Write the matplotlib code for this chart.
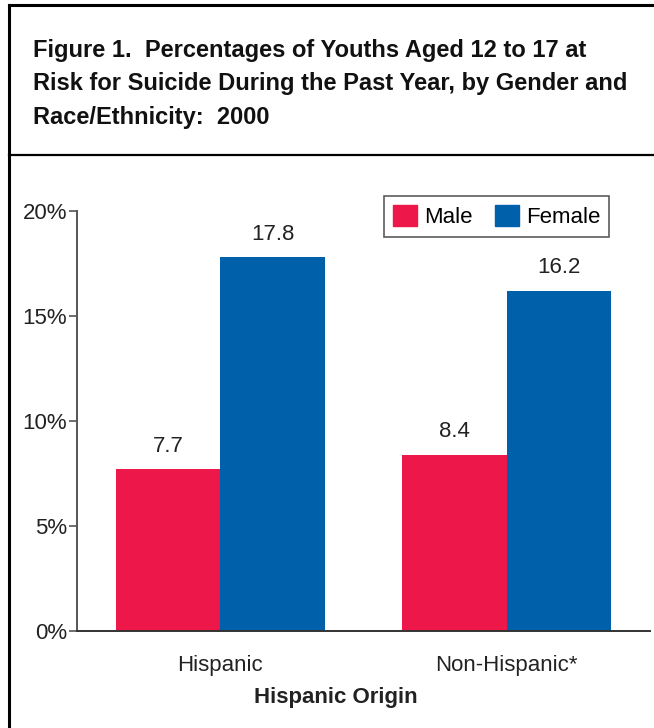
import numpy as np
import matplotlib.pyplot as plt
from matplotlib.lines import Line2D
from matplotlib.patches import Patch

plt.rcParams['font.family'] = ['Liberation Sans', 'DejaVu Sans']

groups = ['Hispanic', 'Non-Hispanic*']
male = [7.7, 8.4]
female = [17.8, 16.2]
yticks = [0, 5, 10, 15, 20]
ytick_labels = ['0%', '5%', '10%', '15%', '20%']

red = '#ED1849'
blue = '#0060A9'
fs = 16

fig = plt.figure(figsize=(6.54, 7.28), dpi=100)
W, H = 654, 728

# frame: left and top border, rule under the title
fig.add_artist(Line2D([9 / W, 9 / W], [0, 1 - 5 / H], color='black', lw=2.2))
fig.add_artist(Line2D([9 / W, 1], [1 - 5 / H, 1 - 5 / H], color='black', lw=2.2))
fig.add_artist(Line2D([9 / W, 1], [1 - 155 / H, 1 - 155 / H], color='black', lw=1.6))

fig.text(33 / W, 1 - 39 / H,
         'Figure 1.  Percentages of Youths Aged 12 to 17 at\n'
         'Risk for Suicide During the Past Year, by Gender and\n'
         'Race/Ethnicity:  2000',
         ha='left', va='top', fontsize=17, fontweight='bold', linespacing=1.58,
         color='#111111')

ax = fig.add_axes([77 / W, 97 / H, (650 - 77) / W, (631 - 211) / H])

x = np.arange(len(groups))
w = 0.365
b1 = ax.bar(x - w / 2, male, w, color=red, label='Male')
b2 = ax.bar(x + w / 2, female, w, color=blue, label='Female')

for bars, vals in ((b1, male), (b2, female)):
    for r, v in zip(bars, vals):
        ax.annotate(f'{v:.1f}', (r.get_x() + r.get_width() / 2, v),
                    xytext=(0, 9), textcoords='offset points',
                    ha='center', va='bottom', fontsize=fs, color='#222222')

ax.set_xlim(-0.5, 1.5)
ax.set_ylim(0, 20)
ax.set_yticks(yticks)
ax.set_yticklabels(ytick_labels, fontsize=fs, color='#222222')
ax.set_xticks(x)
ax.set_xticklabels(groups, fontsize=fs, color='#222222')
ax.tick_params(axis='x', length=0, pad=17)
ax.tick_params(axis='y', length=6, width=1.2, color='#555555', pad=1)
ax.spines['top'].set_visible(False)
ax.spines['right'].set_visible(False)
ax.spines['left'].set_color('#555555')
ax.spines['left'].set_linewidth(1.4)
ax.spines['bottom'].set_color('#333333')
ax.spines['bottom'].set_linewidth(1.4)

fig.text(336 / W, 1 - 698 / H, 'Hispanic Origin', ha='center', va='center',
         fontsize=fs, fontweight='bold', color='#222222')

handles = [Patch(color=red, label='Male'), Patch(color=blue, label='Female')]
leg = ax.legend(handles=handles, loc='upper right', ncol=2,
                bbox_to_anchor=((609 - 77) / (650 - 77), 1 + 15 / 420),
                fontsize=fs, frameon=True, fancybox=False,
                edgecolor='#333333', handlelength=1.1, handleheight=1.1,
                handletextpad=0.3, columnspacing=1.0, borderpad=0.4,
                borderaxespad=0)
leg.get_frame().set_linewidth(1.2)

fig.savefig('out.png', dpi=100)
